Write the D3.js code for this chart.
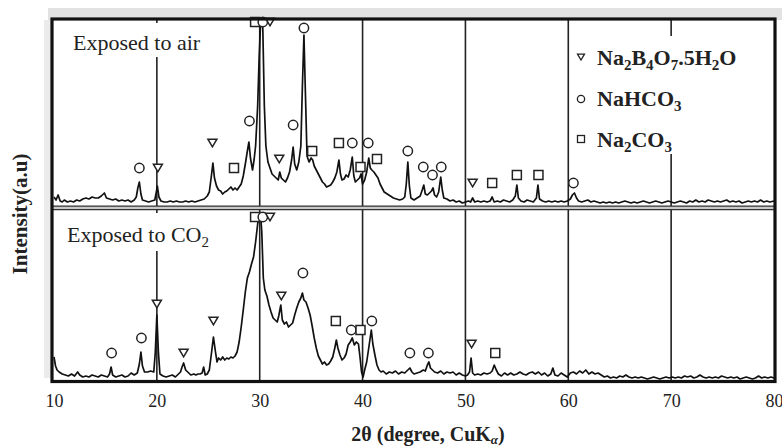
<!DOCTYPE html>
<html>
<head>
<meta charset="utf-8">
<script src="https://cdn.jsdelivr.net/npm/d3@7"></script>
<style>
  body { margin: 0; background: #fff; }
  svg { display: block; font-family: "Liberation Serif", "DejaVu Serif", serif; }
</style>
</head>
<body>
<svg id="xrd" width="782" height="447"></svg>
<script>
// 2theta tick labels and grid lines
const tickLabels = [10, 20, 30, 40, 50, 60, 70, 80];
const gridAngles = [20, 30, 40, 50, 60, 70];

// pattern 1: exposed to air  [2theta, intensity a.u.]
const airTrace = [
  [10.0,9],[10.2,6],[10.4,11],[10.6,5],[10.8,4],[11.0,6],[11.3,4],[11.6,5],[11.9,4],[12.2,6],
  [12.5,5],[12.8,7],[13.1,8],[13.4,7],[13.7,9],[14.0,8],[14.3,8],[14.6,10],[14.9,13],[15.1,8],
  [15.4,7],[15.7,6],[16.0,7],[16.3,5],[16.6,6],[16.9,5],[17.2,6],[17.5,4],[17.8,6],[18.0,9],
  [18.15,18],[18.3,24],[18.45,12],[18.6,6],[18.9,5],[19.2,4],[19.5,5],[19.8,6],[19.95,14],[20.05,20],
  [20.2,9],[20.4,5],[20.7,4],[21.0,4],[21.3,5],[21.6,4],[21.9,5],[22.2,4],[22.5,4],[22.8,5],
  [23.1,4],[23.4,5],[23.7,4],[24.0,5],[24.3,6],[24.6,7],[24.9,10],[25.1,14],[25.3,30],[25.45,43],
  [25.6,28],[25.8,20],[26.0,16],[26.2,15],[26.4,12],[26.6,14],[26.8,15],[27.0,17],[27.2,19],[27.4,16],
  [27.6,18],[27.8,16],[28.0,19],[28.2,22],[28.4,30],[28.6,42],[28.8,55],[28.95,64],[29.1,48],[29.3,36],
  [29.45,46],[29.6,60],[29.8,100],[29.95,150],[30.1,186],[30.2,184],[30.3,178],[30.45,100],[30.6,60],[30.8,44],
  [31.0,38],[31.2,32],[31.4,30],[31.6,28],[31.8,26],[31.95,34],[32.1,28],[32.3,26],[32.5,24],[32.7,28],
  [32.9,34],[33.1,46],[33.25,59],[33.4,42],[33.6,36],[33.8,44],[34.0,60],[34.15,120],[34.3,171],[34.45,110],
  [34.6,50],[34.8,44],[35.0,48],[35.15,46],[35.3,40],[35.5,36],[35.7,32],[35.9,28],[36.1,24],[36.3,22],
  [36.5,19],[36.7,20],[36.9,21],[37.1,24],[37.3,28],[37.5,34],[37.7,46],[37.85,32],[38.0,26],[38.2,27],
  [38.4,31],[38.6,29],[38.8,36],[39.0,49],[39.15,30],[39.3,24],[39.5,26],[39.7,28],[39.85,32],[40.0,22],
  [40.2,26],[40.4,34],[40.6,48],[40.75,38],[40.9,36],[41.1,34],[41.3,31],[41.5,28],[41.7,22],[41.9,18],
  [42.1,14],[42.4,12],[42.7,10],[43.0,8],[43.3,7],[43.6,6],[43.9,7],[44.1,9],[44.25,22],[44.4,44],
  [44.55,20],[44.7,8],[45.0,6],[45.3,8],[45.6,10],[45.8,16],[45.95,21],[46.1,12],[46.3,11],[46.5,13],
  [46.7,15],[46.85,18],[47.0,11],[47.2,9],[47.4,14],[47.6,29],[47.75,16],[47.9,8],[48.2,7],[48.5,5],
  [48.8,6],[49.1,4],[49.4,5],[49.7,3],[50.0,4],[50.3,5],[50.5,4],[50.7,8],[50.9,4],[51.2,5],
  [51.5,4],[51.8,5],[52.1,4],[52.4,5],[52.6,9],[52.8,4],[53.1,5],[53.4,4],[53.7,6],[54.0,5],
  [54.3,4],[54.6,6],[54.85,10],[55.0,21],[55.15,8],[55.4,5],[55.7,4],[56.0,6],[56.3,5],[56.6,4],
  [56.9,8],[57.05,21],[57.2,7],[57.5,5],[57.8,4],[58.1,5],[58.4,4],[58.7,5],[59.0,4],[59.3,5],
  [59.6,4],[59.9,5],[60.2,7],[60.4,11],[60.6,13],[60.8,8],[61.0,5],[61.3,4],[61.6,5],[61.9,6],
  [62.2,4],[62.5,5],[62.8,4],[63.1,3],[63.4,4],[63.7,3],[64.0,4],[64.3,3],[64.6,4],[64.9,3],
  [65.2,4],[65.5,5],[65.8,4],[66.1,3],[66.4,4],[66.7,3],[67.0,4],[67.3,5],[67.6,4],[67.9,3],
  [68.2,4],[68.5,5],[68.8,4],[69.1,3],[69.4,4],[69.7,5],[70.0,4],[70.3,3],[70.6,4],[70.9,5],
  [71.2,4],[71.5,3],[71.8,5],[72.1,4],[72.4,6],[72.7,4],[73.0,5],[73.3,4],[73.6,6],[73.9,5],
  [74.2,4],[74.5,5],[74.8,4],[75.1,5],[75.4,6],[75.7,4],[76.0,5],[76.3,4],[76.6,5],[76.9,3],
  [77.2,4],[77.5,5],[77.8,4],[78.1,5],[78.4,4],[78.7,6],[79.0,4],[79.3,5],[79.6,4],[80.0,5]
];

// pattern 2: exposed to CO2
const co2Trace = [
  [10.0,25],[10.15,16],[10.3,12],[10.5,10],[10.8,8],[11.1,7],[11.4,6],[11.7,8],[12.0,6],[12.3,10],
  [12.5,7],[12.8,5],[13.1,6],[13.4,5],[13.7,7],[14.0,6],[14.3,5],[14.6,7],[14.9,6],[15.2,5],
  [15.4,8],[15.55,15],[15.7,7],[16.0,5],[16.3,6],[16.6,7],[16.9,5],[17.2,6],[17.5,9],[17.8,7],
  [18.1,9],[18.3,18],[18.45,30],[18.6,16],[18.8,10],[19.1,10],[19.4,11],[19.7,10],[19.85,30],[20.0,67],
  [20.15,30],[20.3,8],[20.6,6],[20.9,5],[21.2,6],[21.5,7],[21.8,5],[22.1,8],[22.3,10],[22.45,15],
  [22.6,19],[22.8,12],[23.0,10],[23.3,7],[23.6,8],[23.8,7],[24.0,8],[24.2,8],[24.4,9],[24.55,15],
  [24.7,7],[24.9,8],[25.1,12],[25.3,28],[25.5,45],[25.7,30],[25.85,20],[26.0,24],[26.2,22],[26.4,25],
  [26.6,22],[26.8,24],[27.0,23],[27.2,25],[27.4,24],[27.6,26],[27.8,30],[28.0,40],[28.2,55],[28.4,72],
  [28.6,90],[28.8,104],[29.0,110],[29.2,118],[29.4,125],[29.6,140],[29.8,158],[29.95,167],[30.1,165],[30.2,150],
  [30.35,104],[30.5,92],[30.7,86],[30.9,77],[31.1,70],[31.3,64],[31.5,62],[31.7,60],[31.85,66],[32.05,77],
  [32.2,62],[32.4,58],[32.6,60],[32.8,55],[33.0,57],[33.2,59],[33.4,67],[33.6,74],[33.8,80],[34.0,84],
  [34.15,89],[34.3,82],[34.5,80],[34.7,74],[34.9,67],[35.1,56],[35.3,44],[35.5,34],[35.7,26],[35.9,22],
  [36.1,18],[36.3,20],[36.5,17],[36.7,18],[36.9,21],[37.1,25],[37.3,34],[37.45,42],[37.6,34],[37.8,27],
  [38.0,22],[38.2,24],[38.4,28],[38.6,37],[38.8,40],[39.0,44],[39.2,37],[39.4,40],[39.6,38],[39.75,25],
  [39.9,10],[40.05,5],[40.2,12],[40.4,20],[40.6,34],[40.85,52],[41.0,38],[41.2,27],[41.4,17],[41.6,12],
  [41.8,10],[42.0,11],[42.3,8],[42.6,10],[42.9,9],[43.2,11],[43.5,8],[43.8,10],[44.1,9],[44.4,12],
  [44.6,14],[44.8,10],[45.0,8],[45.3,9],[45.6,10],[45.9,12],[46.1,11],[46.3,17],[46.45,20],[46.6,14],
  [46.8,12],[47.0,10],[47.3,9],[47.6,11],[47.9,8],[48.2,10],[48.5,9],[48.8,10],[49.1,7],[49.4,9],
  [49.7,7],[50.0,6],[50.2,7],[50.4,10],[50.55,24],[50.7,9],[50.9,7],[51.2,8],[51.5,7],[51.8,9],
  [52.1,8],[52.4,9],[52.6,11],[52.8,17],[53.0,12],[53.2,8],[53.5,6],[53.8,9],[54.1,7],[54.4,9],
  [54.7,7],[55.0,8],[55.3,10],[55.6,8],[55.9,7],[56.2,9],[56.5,10],[56.8,8],[57.1,10],[57.4,7],
  [57.7,9],[58.0,6],[58.3,8],[58.5,14],[58.7,7],[59.0,6],[59.3,9],[59.6,7],[59.9,5],[60.2,9],
  [60.5,10],[60.8,8],[61.1,11],[61.4,9],[61.7,12],[62.0,8],[62.3,10],[62.6,8],[62.9,9],[63.2,7],
  [63.5,5],[63.8,6],[64.1,4],[64.4,5],[64.7,4],[65.0,6],[65.3,5],[65.6,7],[65.9,5],[66.2,4],
  [66.5,5],[66.8,4],[67.1,5],[67.4,4],[67.7,3],[68.0,4],[68.3,5],[68.6,4],[68.9,3],[69.2,4],
  [69.5,5],[69.8,4],[70.1,5],[70.4,4],[70.7,5],[71.0,4],[71.3,6],[71.6,5],[71.9,6],[72.2,4],
  [72.5,5],[72.8,7],[73.1,5],[73.4,4],[73.7,5],[74.0,4],[74.3,5],[74.6,4],[74.9,6],[75.2,5],
  [75.5,4],[75.8,5],[76.1,4],[76.4,5],[76.7,3],[77.0,4],[77.3,5],[77.6,4],[77.9,3],[78.2,4],
  [78.5,6],[78.8,4],[79.1,5],[79.4,4],[79.7,5],[80.0,4]
];

// phase markers: [2theta, height a.u., phase]  t = Na2B4O7.5H2O, c = NaHCO3, s = Na2CO3
const airMarks = [
  [18.3,38,"c"],[20.1,38,"t"],[25.4,63,"t"],[27.5,38,"s"],[29.0,85,"c"],
  [29.55,184,"s"],[30.3,184,"c"],[31.0,184,"t"],[31.9,47,"t"],[33.25,81,"c"],
  [34.3,178,"c"],[35.1,55,"s"],[37.7,63,"s"],[39.0,63,"c"],[39.8,39,"s"],
  [40.55,63,"c"],[41.4,47,"s"],[44.4,55,"c"],[45.9,39,"c"],[46.8,31,"c"],
  [47.65,39,"c"],[50.7,23,"t"],[52.6,23,"s"],[55.0,31,"s"],[57.1,31,"s"],[60.5,23,"c"]
];
const co2Marks = [
  [15.6,29,"c"],[18.5,44,"c"],[20.0,78,"t"],[22.6,29,"t"],[25.5,61,"t"],
  [29.55,165,"s"],[30.3,165,"c"],[31.0,165,"t"],[32.1,86,"t"],[34.2,109,"c"],
  [37.4,61,"s"],[38.9,52,"c"],[39.8,52,"s"],[40.9,61,"c"],[44.6,29,"c"],
  [46.4,29,"c"],[50.6,38,"t"],[52.9,29,"s"]
];

const legendKeys = ["t", "c", "s"];

const svg = d3.select("#xrd");
const serif = '"Liberation Serif", "DejaVu Serif", serif';

const frame = { left: 52, right: 775, top: 19, mid: 208, bottom: 381.5 };

const x = d3.scaleLinear().domain([10, 80]).range([54, 774]);
const yAir = d3.scaleLinear().domain([0, 188]).range([206, 18]);
const yCo2 = d3.scaleLinear().domain([0, 173]).range([382, 209]);

// faded scan background
svg.append("rect").attr("x", 48).attr("y", 8).attr("width", 734).attr("height", 12).attr("fill", "#e2e2e2");
svg.append("rect").attr("x", 44).attr("y", 20).attr("width", 8).attr("height", 358).attr("fill", "#ebebeb");
svg.append("rect").attr("x", frame.left).attr("y", frame.top)
    .attr("width", frame.right - frame.left).attr("height", frame.bottom - frame.top)
    .attr("fill", "#fff");

// vertical grid
svg.append("g").selectAll("line")
    .data(gridAngles)
    .join("line")
    .attr("x1", d => x(d)).attr("x2", d => x(d))
    .attr("y1", frame.top).attr("y2", frame.bottom)
    .attr("stroke", "#222").attr("stroke-width", 1.6);

// white panels behind text (they cut the grid lines like in the scan)
svg.append("rect").attr("x", 66).attr("y", 23).attr("width", 145).attr("height", 34).attr("fill", "#fff");
svg.append("rect").attr("x", 62).attr("y", 213).attr("width", 158).attr("height", 38).attr("fill", "#fff");
svg.append("rect").attr("x", 572).attr("y", 36).attr("width", 180).attr("height", 118).attr("fill", "#fff");

// panel labels
svg.append("text").attr("x", 73).attr("y", 50)
    .style("font-family", serif).style("font-size", "22px").attr("fill", "#222")
    .text("Exposed to air");
const co2Label = svg.append("text").attr("x", 67).attr("y", 242)
    .style("font-family", serif).style("font-size", "22px").attr("fill", "#222");
co2Label.append("tspan").text("Exposed to CO");
co2Label.append("tspan").attr("dy", 5).style("font-size", "15px").text("2");

// traces
const lineAir = d3.line().x(d => x(d[0])).y(d => yAir(d[1]));
const lineCo2 = d3.line().x(d => x(d[0])).y(d => yCo2(d[1]));

svg.append("path").datum(airTrace).attr("d", lineAir)
    .attr("fill", "none").attr("stroke", "#111").attr("stroke-width", 1.7).attr("stroke-linejoin", "round");
svg.append("path").datum(co2Trace).attr("d", lineCo2)
    .attr("fill", "none").attr("stroke", "#111").attr("stroke-width", 1.7).attr("stroke-linejoin", "round");

// marker shapes
function drawMark(g, type, cx, cy, s) {
    if (type === "c") {
        g.append("circle").attr("cx", cx).attr("cy", cy).attr("r", s * 0.52);
    } else if (type === "s") {
        g.append("rect").attr("x", cx - s / 2).attr("y", cy - s / 2).attr("width", s).attr("height", s);
    } else {
        const h = s * 0.85;
        g.append("path").attr("d", `M${cx - s / 2},${cy - h / 2}L${cx + s / 2},${cy - h / 2}L${cx},${cy + h / 2}Z`);
    }
}

const markG = svg.append("g").attr("fill", "#fff").attr("stroke", "#222").attr("stroke-width", 1.5);
airMarks.forEach(d => drawMark(markG, d[2], x(d[0]), yAir(d[1]), 9));
co2Marks.forEach(d => drawMark(markG, d[2], x(d[0]), yCo2(d[1]), 9));

// legend
const legendRows = [57, 99, 139];
const legG = svg.append("g");
legendKeys.forEach((k, i) => {
    const mg = legG.append("g").attr("fill", "#fff").attr("stroke", "#222").attr("stroke-width", 1.3);
    drawMark(mg, k, 581, legendRows[i], 7);
});
function formula(parts, yb) {
    const txt = legG.append("text").attr("x", 597).attr("y", yb)
        .style("font-family", serif).style("font-size", "22px").style("font-weight", "bold").attr("fill", "#222");
    let sub = false;
    parts.forEach(p => {
        const ts = txt.append("tspan").text(p[0]);
        if (p[1] && !sub) { ts.attr("dy", 5).style("font-size", "15px"); sub = true; }
        else if (!p[1] && sub) { ts.attr("dy", -5); sub = false; }
    });
}
formula([["Na"], ["2", 1], ["B"], ["4", 1], ["O"], ["7", 1], [".5H"], ["2", 1], ["O"]], 65);
formula([["NaHCO"], ["3", 1]], 106);
formula([["Na"], ["2", 1], ["CO"], ["3", 1]], 147);

// panel divider (double line)
svg.append("rect").attr("x", frame.left).attr("y", 206).attr("width", frame.right - frame.left).attr("height", 3.6)
    .attr("fill", "#c8c8c8");
[206.2, 209.6].forEach(yy => {
    svg.append("line").attr("x1", frame.left).attr("x2", frame.right).attr("y1", yy).attr("y2", yy)
        .attr("stroke", "#333").attr("stroke-width", 1.2);
});

// frame
svg.append("rect").attr("x", frame.left).attr("y", frame.top)
    .attr("width", frame.right - frame.left).attr("height", frame.bottom - frame.top)
    .attr("fill", "none").attr("stroke", "#111").attr("stroke-width", 3.2);

// x axis labels
const xAxis = d3.axisBottom(x).tickValues(tickLabels).tickSize(0).tickPadding(0);
const ax = svg.append("g").attr("transform", "translate(0,393)").call(xAxis);
ax.select(".domain").remove();
ax.selectAll("text").style("font-family", serif).style("font-size", "18px").attr("fill", "#222").attr("dy", "0.8em");

// axis titles
const xt = svg.append("text").attr("x", 428).attr("y", 441).attr("text-anchor", "middle")
    .style("font-family", serif).style("font-size", "20px").style("font-weight", "bold").attr("fill", "#222");
xt.append("tspan").text("2θ  (degree, CuK");
xt.append("tspan").attr("dy", 3).style("font-size", "13px").style("font-style", "italic").text("α");
xt.append("tspan").attr("dy", -3).text(")");

svg.append("text").attr("transform", "translate(27,214) rotate(-90)").attr("text-anchor", "middle")
    .style("font-family", serif).style("font-size", "21px").style("font-weight", "bold").attr("fill", "#222")
    .text("Intensity(a.u)");
</script>
</body>
</html>
